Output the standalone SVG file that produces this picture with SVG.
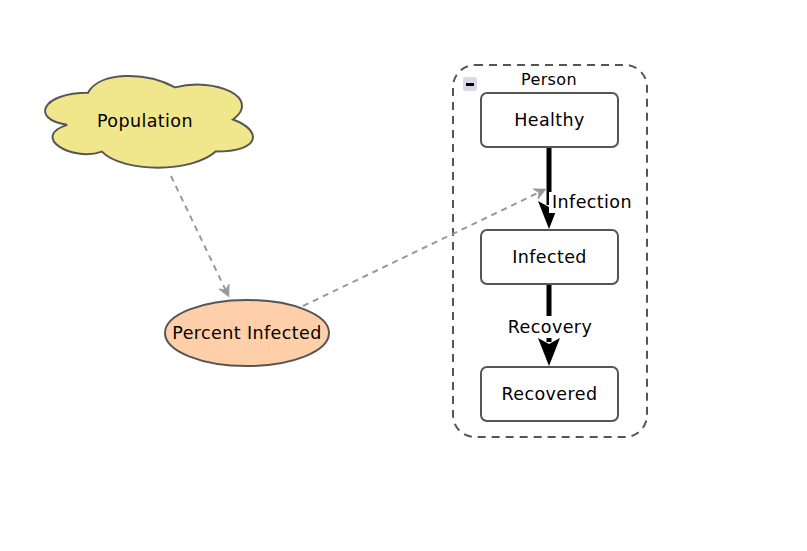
<svg xmlns="http://www.w3.org/2000/svg" width="807" height="551" viewBox="0 0 807 551">
<style>
text{font-family:"DejaVu Sans","Liberation Sans",sans-serif;fill:#000;text-anchor:middle;dominant-baseline:central}
.lbl{font-size:17.5px;letter-spacing:0.4px}
.box{fill:#fff;stroke:#555;stroke-width:2}
.dash{fill:none;stroke:#999;stroke-width:2;stroke-dasharray:6 5}
.thick{fill:none;stroke:#000;stroke-width:5}
</style>
<defs>
<marker id="gray" viewBox="0 0 12 12" refX="4" refY="6" markerWidth="12" markerHeight="12" markerUnits="userSpaceOnUse" orient="auto">
<path d="M0,0 L12,6 L0,12 L4,6 Z" fill="#999" stroke="#999" stroke-width="0.5"/>
</marker>
<marker id="blk" viewBox="0 0 28 22" refX="4" refY="11" markerWidth="28" markerHeight="22" markerUnits="userSpaceOnUse" orient="auto">
<path d="M0,0 L28,11 L0,22 L6,11 Z" fill="#000"/>
</marker>
</defs>
<g id="person">
<rect x="453" y="65" width="194" height="372" rx="22" fill="none" stroke="#555" stroke-width="2" stroke-dasharray="8 6"/>
<text x="549" y="79" class="lbl" style="font-size:16px">Person</text>
<rect x="463" y="77" width="14" height="14" rx="2" fill="#d8d8ea"/>
<rect x="466" y="83" width="8" height="3" fill="#000"/>
</g>
<g id="population">
<path d="M88 92.75 C41.6 92.75 30 119.5 67.12 124.85 C30 136.62 71.76 162.3 101.92 151.6 C122.8 173 192.4 173 215.6 151.6 C262 151.6 262 130.2 233 119.5 C262 98.1 215.6 76.7 175 87.4 C146 71.35 99.6 71.35 88 92.75 Z" fill="#f0e68c" stroke="#555" stroke-width="2"/>
<text x="145" y="121" class="lbl">Population</text>
</g>
<g id="percent-infected">
<ellipse cx="247" cy="333" rx="82" ry="33" fill="#ffcfaa" stroke="#555" stroke-width="2"/>
<text x="247" y="333" class="lbl">Percent Infected</text>
</g>
<g id="healthy">
<rect x="481" y="93" width="137" height="54" rx="6" class="box"/>
<text x="549.5" y="120" class="lbl">Healthy</text>
</g>
<g id="infected">
<rect x="481" y="230" width="137" height="54" rx="6" class="box"/>
<text x="549.5" y="257" class="lbl">Infected</text>
</g>
<g id="recovered">
<rect x="481" y="367" width="137" height="54" rx="6" class="box"/>
<text x="549.5" y="394" class="lbl">Recovered</text>
</g>
<g id="connectors">
<line x1="171" y1="176" x2="225.5" y2="289.8" class="dash" marker-end="url(#gray)"/>
<line x1="549" y1="148" x2="549" y2="205" class="thick" marker-end="url(#blk)"/>
<line x1="549" y1="285" x2="549" y2="342" class="thick" marker-end="url(#blk)"/>
<line x1="303" y1="306" x2="538.8" y2="192.5" class="dash" marker-end="url(#gray)"/>
<rect x="549" y="192" width="86" height="21" fill="#fff"/>
<text x="592" y="202" class="lbl">Infection</text>
<rect x="506" y="316" width="88" height="22" fill="#fff"/>
<text x="550" y="327" class="lbl">Recovery</text>
</g>
</svg>
